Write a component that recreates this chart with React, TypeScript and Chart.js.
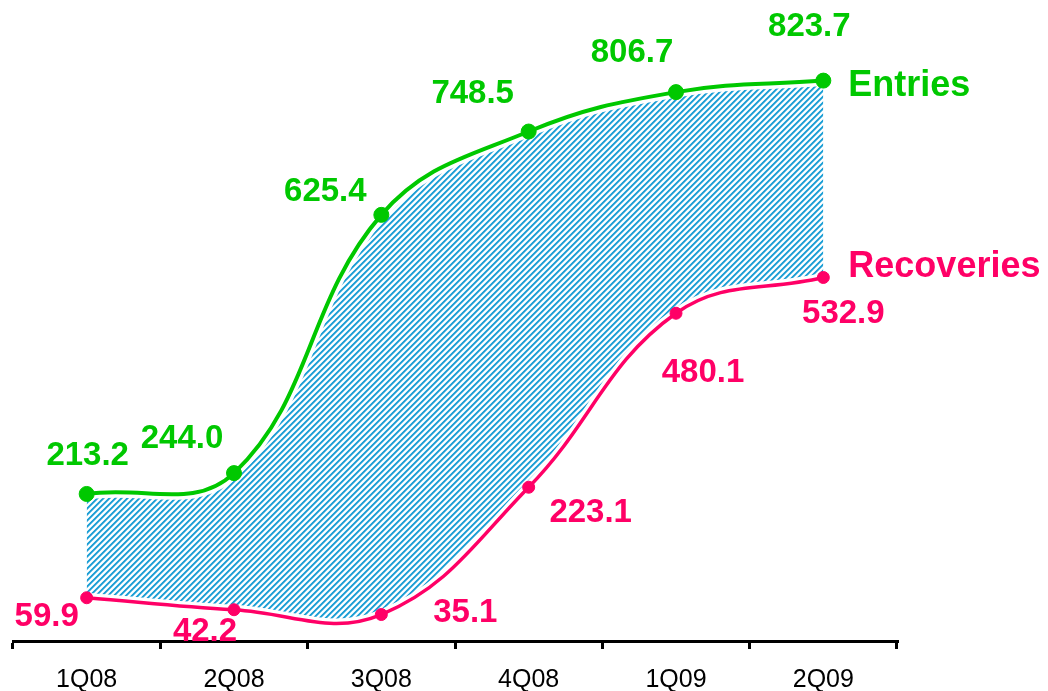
import React, { useEffect, useRef } from "react";
import { Chart, registerables } from "chart.js";

Chart.register(...registerables);

const categories = ["1Q08", "2Q08", "3Q08", "4Q08", "1Q09", "2Q09"];
const entries = [213.2, 244.0, 625.4, 748.5, 806.7, 823.7];
const recoveries = [59.9, 42.2, 35.1, 223.1, 480.1, 532.9];
const entriesLabels = ["213.2", "244.0", "625.4", "748.5", "806.7", "823.7"];
const recoveriesLabels = ["59.9", "42.2", "35.1", "223.1", "480.1", "532.9"];
const seriesNames = ["Entries", "Recoveries"];

// label placement offsets (px) relative to each point
const entriesOffsets = [[1, -41], [-52, -37], [-56, -26], [-56, -40], [-44, -42], [-14, -56]];
const recoveriesOffsets = [[-40, 16], [-29, 19], [84, -4], [62, 23], [27, 57], [20, 34]];

const GREEN = "#00C800";
const PINK = "#FF0066";
const HATCH = "#1FA0D6";
const FONT = "'Liberation Sans', Arial, sans-serif";

function makePattern(): CanvasPattern | string {
  const c = document.createElement("canvas");
  const n = 6;
  c.width = n;
  c.height = n;
  const g = c.getContext("2d");
  if (!g) return HATCH;
  const cols = [HATCH, HATCH, "#7cc6e6", "#ffffff", "#ffffff", "#d4edf8"];
  for (let x = 0; x < n; x++) {
    for (let y = 0; y < n; y++) {
      g.fillStyle = cols[(x + y) % n];
      g.fillRect(x, y, 1, 1);
    }
  }
  const p = g.createPattern(c, "repeat");
  return p || HATCH;
}

const haloPlugin = {
  id: "haloPlugin",
  beforeDatasetsDraw(chart: any) {
    const ctx = chart.ctx;
    ctx.save();
    const area = chart.chartArea;
    ctx.beginPath();
    ctx.rect(area.left, area.top - 20, area.right - area.left, area.bottom - area.top + 20);
    ctx.clip();
    [0, 1].forEach((i) => {
      const el = chart.getDatasetMeta(i).dataset;
      if (!el || !el.path) return;
      ctx.beginPath();
      el.path(ctx);
      ctx.lineWidth = i === 0 ? 11 : 10;
      ctx.strokeStyle = "#ffffff";
      ctx.lineJoin = "round";
      ctx.lineCap = "butt";
      ctx.stroke();
    });
    ctx.restore();
  },
};

const labelPlugin = {
  id: "labelPlugin",
  afterDatasetsDraw(chart: any) {
    const ctx = chart.ctx;
    ctx.save();
    const sets = [
      { idx: 0, labels: entriesLabels, offs: entriesOffsets, color: GREEN },
      { idx: 1, labels: recoveriesLabels, offs: recoveriesOffsets, color: PINK },
    ];
    const size = 33;
    ctx.font = `bold ${size}px ${FONT}`;
    ctx.textAlign = "center";
    ctx.textBaseline = "alphabetic";
    for (const s of sets) {
      const meta = chart.getDatasetMeta(s.idx);
      ctx.fillStyle = s.color;
      meta.data.forEach((pt: any, i: number) => {
        const [dx, dy] = s.offs[i];
        ctx.fillText(s.labels[i], pt.x + dx, pt.y + dy + size * 0.358);
      });
    }
    const nameSize = 36;
    ctx.font = `bold ${nameSize}px ${FONT}`;
    ctx.textAlign = "left";
    const m0 = chart.getDatasetMeta(0).data;
    const m1 = chart.getDatasetMeta(1).data;
    const last0 = m0[m0.length - 1];
    const last1 = m1[m1.length - 1];
    ctx.fillStyle = GREEN;
    ctx.fillText(seriesNames[0], last0.x + 25, last0.y + 2 + nameSize * 0.358);
    ctx.fillStyle = PINK;
    ctx.fillText(seriesNames[1], last1.x + 25, last1.y - 13 + nameSize * 0.358);
    ctx.restore();
  },
};

export default function App() {
  const ref = useRef<HTMLCanvasElement>(null);
  useEffect(() => {
    if (!ref.current) return;
    const pattern = makePattern();
    const chart = new Chart(ref.current, {
      type: "line",
      data: {
        labels: categories,
        datasets: [
          {
            label: seriesNames[0],
            data: entries,
            order: 2,
            borderColor: GREEN,
            backgroundColor: pattern as any,
            pointBackgroundColor: GREEN,
            pointBorderColor: GREEN,
            pointRadius: 7.5,
            pointBorderWidth: 1,
            borderWidth: 4,
            tension: 0.4,
            fill: "+1",
          },
          {
            label: seriesNames[1],
            data: recoveries,
            order: 1,
            borderColor: PINK,
            backgroundColor: PINK,
            pointBackgroundColor: PINK,
            pointBorderColor: PINK,
            pointRadius: 6,
            pointBorderWidth: 1,
            borderWidth: 3.5,
            tension: 0.4,
            fill: false,
          },
        ],
      },
      options: {
        animation: false,
        responsive: false,
        maintainAspectRatio: false,
        layout: { padding: { left: 13, right: 151, top: 10, bottom: 0 } },
        plugins: {
          legend: { display: false },
          tooltip: { enabled: false },
          filler: { drawTime: "beforeDatasetsDraw" },
        } as any,
        scales: {
          x: {
            offset: true,
            afterFit: (scale: any) => {
              scale.height = 50;
            },
            grid: {
              display: true,
              offset: true,
              drawOnChartArea: false,
              drawTicks: true,
              tickLength: 8,
              color: "#000000",
              lineWidth: 3,
            },
            border: { display: true, color: "#000000", width: 3 },
            ticks: {
              color: "#000000",
              padding: 16,
              font: { family: FONT, size: 25 },
              maxRotation: 0,
              autoSkip: false,
            },
          },
          y: {
            display: false,
            min: -4,
            max: 928,
          },
        },
      },
      plugins: [haloPlugin, labelPlugin],
    });
    return () => chart.destroy();
  }, []);
  return (
    <div style={{ position: "absolute", left: 0, top: 0, width: 1048, height: 691, background: "#fff" }}>
      <canvas ref={ref} width={1048} height={691} />
    </div>
  );
}
